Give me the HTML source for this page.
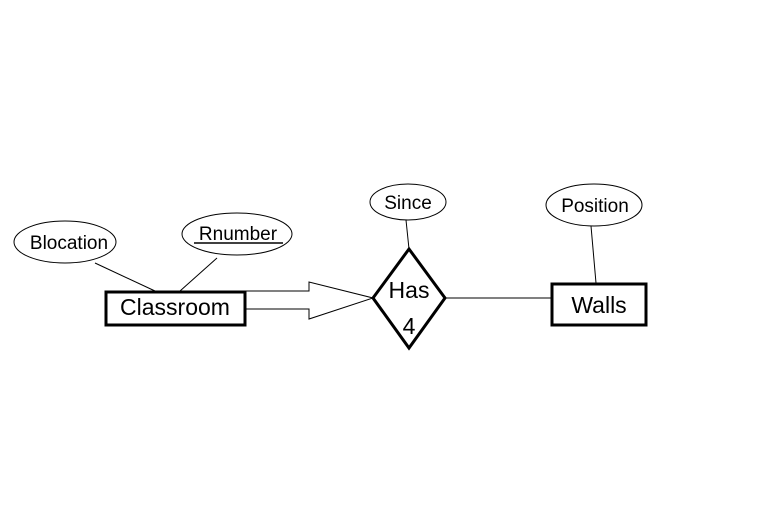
<!DOCTYPE html>
<html><head><style>html,body{margin:0;padding:0;background:#fff}svg{display:block}text{font-family:"Liberation Sans",sans-serif;fill:#000}</style></head>
<body>
<svg width="773" height="527" viewBox="0 0 773 527" xmlns="http://www.w3.org/2000/svg">
<rect width="773" height="527" fill="#fff"/>
<g stroke="#000" stroke-width="1" fill="none">
<line x1="95" y1="263" x2="155" y2="291"/>
<line x1="217" y1="258" x2="180" y2="291"/>
<line x1="406" y1="220" x2="409" y2="249"/>
<line x1="591" y1="226" x2="596" y2="283"/>
<line x1="445" y1="298" x2="552" y2="298"/>
<polyline points="245,291 309,291 309,282 373,298 309,319 309,309 245,309"/>
<ellipse cx="65" cy="242" rx="51" ry="21"/>
<ellipse cx="237" cy="234" rx="55" ry="21"/>
<ellipse cx="408" cy="202" rx="38" ry="18"/>
<ellipse cx="594" cy="205" rx="48" ry="21"/>
</g>
<g stroke="#000" stroke-width="3" fill="#fff">
<rect x="106" y="292" width="139" height="33"/>
<rect x="552" y="284" width="94" height="41"/>
<polygon points="409,249 445,298 409,348 373,298"/>
</g>
<text x="69" y="249" font-size="19" text-anchor="middle">Blocation</text>
<text x="238" y="240" font-size="19" text-anchor="middle">Rnumber</text>
<line x1="194" y1="243" x2="283" y2="243" stroke="#000" stroke-width="1.5"/>
<text x="408" y="209" font-size="19" text-anchor="middle">Since</text>
<text x="595" y="212" font-size="19" text-anchor="middle">Position</text>
<text x="175" y="315" font-size="23" text-anchor="middle">Classroom</text>
<text x="599" y="313" font-size="23" text-anchor="middle">Walls</text>
<text x="409" y="298" font-size="23" text-anchor="middle">Has</text>
<text x="409" y="334" font-size="23" text-anchor="middle">4</text>
</svg>
</body></html>
